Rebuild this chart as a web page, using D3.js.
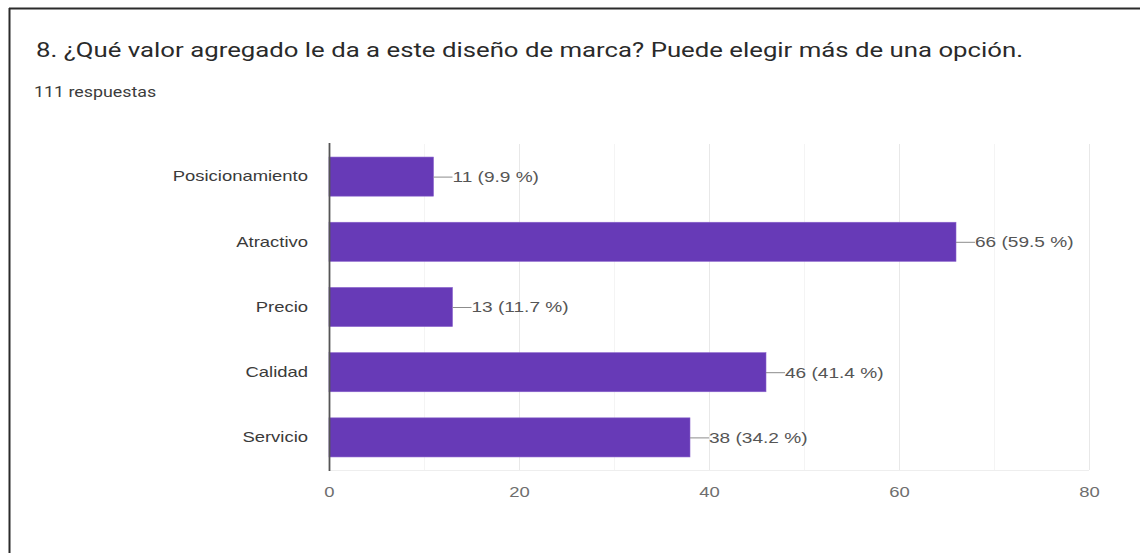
<!DOCTYPE html>
<html>
<head>
<meta charset="utf-8">
<script src="https://cdn.jsdelivr.net/npm/d3@7"></script>
<style>
  html, body { margin: 0; padding: 0; background: #fff; }
  svg { display: block; }
</style>
</head>
<body>
<svg id="chart" width="1140" height="553"></svg>
<script>
// Survey question and response count
const title = "8. ¿Qué valor agregado le da a este diseño de marca? Puede elegir más de una opción.";
const subtitle = "111 respuestas";

// Answer options and counts
const categories = ["Posicionamiento", "Atractivo", "Precio", "Calidad", "Servicio"];
const counts = [11, 66, 13, 46, 38];
const percents = ["9.9", "59.5", "11.7", "41.4", "34.2"];

// Axis ticks
const majorTicks = [0, 20, 40, 60, 80];
const minorTicks = [10, 30, 50, 70];

// Text in this card is set slightly wide
const stretch = 1.23;

const svg = d3.select("#chart");

// Card frame (top and left edges)
svg.append("line").attr("x1", 9).attr("x2", 1140).attr("y1", 8.5).attr("y2", 8.5)
  .attr("stroke", "#2b2b2b").attr("stroke-width", 2);
svg.append("line").attr("x1", 9.5).attr("x2", 9.5).attr("y1", 8).attr("y2", 553)
  .attr("stroke", "#2b2b2b").attr("stroke-width", 2);

function wideText(parent, px, py, str, size, fill, family) {
  return parent.append("text")
    .attr("transform", `translate(${px},${py}) scale(${stretch},1)`)
    .attr("font-family", family).attr("font-size", size)
    .attr("fill", fill).text(str);
}

const roboto = "Roboto, Arial, sans-serif";
const font = "Arial, 'Liberation Sans', sans-serif";

wideText(svg, 36, 57, title, 20.5, "#2a2a2a", roboto)
  .attr("textLength", 987 / stretch).attr("lengthAdjust", "spacingAndGlyphs");
wideText(svg, 34, 97, subtitle, 14.5, "#3c3c3c", roboto);

const margin = { left: 329, right: 1089, top: 144, bottom: 470 };

const x = d3.scaleLinear().domain([0, 80]).range([margin.left, margin.right]);
const y = d3.scaleBand().domain(categories).range([margin.top, margin.bottom])
  .paddingInner(0.4).paddingOuter(0.2);

// Minor and major grid lines
svg.append("g").selectAll("line").data(minorTicks).join("line")
  .attr("x1", d => x(d) + 0.5).attr("x2", d => x(d) + 0.5)
  .attr("y1", margin.top).attr("y2", margin.bottom)
  .attr("stroke", "#f4f4f4").attr("stroke-width", 1);
svg.append("g").selectAll("line").data(majorTicks.slice(1)).join("line")
  .attr("x1", d => x(d) + 0.5).attr("x2", d => x(d) + 0.5)
  .attr("y1", margin.top).attr("y2", margin.bottom)
  .attr("stroke", "#e8e8e8").attr("stroke-width", 1);
svg.append("line").attr("x1", margin.left).attr("x2", margin.right)
  .attr("y1", margin.bottom + 0.5).attr("y2", margin.bottom + 0.5)
  .attr("stroke", "#eeeeee");

// Bottom axis built with d3.axisBottom, line and ticks hidden
const xAxis = svg.append("g")
  .attr("transform", `translate(0,${margin.bottom})`)
  .call(d3.axisBottom(x).tickValues(majorTicks).tickSize(0).tickPadding(16));
xAxis.select(".domain").remove();
xAxis.selectAll("text")
  .attr("font-family", font).attr("font-size", 15).attr("fill", "#6e6e6e")
  .attr("transform", `scale(${stretch},1)`);

// Category axis
const yAxis = svg.append("g")
  .attr("transform", `translate(${margin.left - 21},0)`)
  .call(d3.axisLeft(y).tickSize(0).tickPadding(0));
yAxis.select(".domain").remove();
yAxis.selectAll("text")
  .attr("font-family", font).attr("font-size", 15).attr("fill", "#3a3a3a")
  .attr("transform", `scale(${stretch},1)`);

// Bars
svg.append("g").selectAll("rect").data(categories).join("rect")
  .attr("x", x(0))
  .attr("y", d => y(d))
  .attr("width", (d, i) => x(counts[i]) - x(0))
  .attr("height", y.bandwidth())
  .attr("fill", "#673ab7")
  .attr("stroke", "#8a63cc").attr("stroke-width", 0.6);

// Baseline at zero
svg.append("line").attr("x1", x(0) + 0.5).attr("x2", x(0) + 0.5)
  .attr("y1", margin.top - 1).attr("y2", margin.bottom + 1)
  .attr("stroke", "#555").attr("stroke-width", 1.8);

// Value annotations with leader lines
const ann = svg.append("g").selectAll("g").data(categories).join("g")
  .attr("transform", (d, i) => `translate(${x(counts[i])},${y(d) + y.bandwidth() / 2})`);
ann.append("line").attr("x1", 0).attr("x2", 19).attr("y1", 0.5).attr("y2", 0.5)
  .attr("stroke", "#8c8c8c").attr("stroke-width", 1);
ann.append("text")
  .attr("transform", `translate(19,0) scale(${stretch},1)`)
  .attr("dy", "0.35em")
  .attr("font-family", font).attr("font-size", 15.5).attr("fill", "#555")
  .text((d, i) => `${counts[i]} (${percents[i]} %)`);
</script>
</body>
</html>
